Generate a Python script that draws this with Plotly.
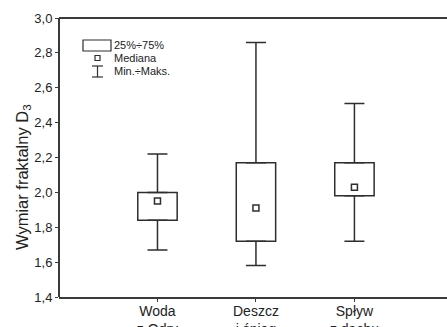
import plotly.graph_objects as go

categories = ["Woda<br>z Odry", "Deszcz<br>i śnieg", "Spływ<br>z dachu"]
positions = [1, 2, 3]
q1 = [1.84, 1.72, 1.98]
q3 = [2.00, 2.17, 2.17]
median = [1.95, 1.91, 2.03]
vmin = [1.67, 1.58, 1.72]
vmax = [2.22, 2.86, 2.51]
yticks = [1.4, 1.6, 1.8, 2.0, 2.2, 2.4, 2.6, 2.8, 3.0]
yticklabels = ["1,4", "1,6", "1,8", "2,0", "2,2", "2,4", "2,6", "2,8", "3,0"]
ytitle = "Wymiar fraktalny D<sub>3</sub>"

LC = "#2e2e2e"
AX = "#3a3a3a"
FONT = "Liberation Sans, Arial, sans-serif"

fig = go.Figure()

fig.add_trace(go.Scatter(
    x=positions, y=q3, mode="markers",
    marker=dict(size=1, opacity=0),
    error_y=dict(type="data", symmetric=False,
                 array=[a - b for a, b in zip(vmax, q3)],
                 arrayminus=[0, 0, 0],
                 color=LC, thickness=1.5, width=10),
    hoverinfo="skip", showlegend=False))
fig.add_trace(go.Scatter(
    x=positions, y=q1, mode="markers",
    marker=dict(size=1, opacity=0),
    error_y=dict(type="data", symmetric=False,
                 array=[0, 0, 0],
                 arrayminus=[a - b for a, b in zip(q1, vmin)],
                 color=LC, thickness=1.5, width=10),
    hoverinfo="skip", showlegend=False))
fig.add_trace(go.Bar(
    x=positions, base=q1, y=[a - b for a, b in zip(q3, q1)],
    width=0.4,
    marker=dict(color="white", line=dict(color=LC, width=1.5)),
    showlegend=False))
fig.add_trace(go.Scatter(
    x=positions, y=median, mode="markers",
    marker=dict(symbol="square", size=6, color="white",
                line=dict(color=LC, width=1.5)),
    showlegend=False))

fig.update_layout(
    width=447, height=327,
    margin=dict(l=59, r=0, t=18, b=30, autoexpand=False),
    plot_bgcolor="white", paper_bgcolor="white",
    font=dict(family=FONT, size=13, color="#222222"),
    barmode="overlay",
    xaxis=dict(range=[0, 3.94], tickmode="array", tickvals=positions,
               ticktext=categories, showline=True, linecolor=AX,
               linewidth=2, ticks="outside", ticklen=3, automargin=False,
               tickcolor=AX, showgrid=False, zeroline=False,
               tickfont=dict(size=14), ticklabelstandoff=-3),
    yaxis=dict(range=[1.4, 3.0], tickmode="array", tickvals=yticks,
               ticktext=yticklabels, showline=False, automargin=False,
               ticks="outside", ticklen=3, tickcolor=AX,
               showgrid=False, zeroline=False, tickfont=dict(size=13)),
)

def px(xp):
    return (xp - 59) / 388.0

def py(yp):
    return (297 - yp) / 279.0

shapes = [
    # hide right plot edge (reference has no right frame)
    dict(type="line", xref="paper", yref="paper", x0=1, x1=1, y0=0.01, y1=0.99,
         line=dict(color="white", width=4), layer="above"),
    dict(type="line", xref="paper", yref="paper", x0=0, x1=1, y0=1, y1=1,
         line=dict(color=AX, width=2)),
    dict(type="line", xref="paper", yref="paper", x0=0, x1=0, y0=0, y1=1,
         line=dict(color=AX, width=2)),
    dict(type="rect", xref="paper", yref="paper", x0=px(83), x1=px(111),
         y0=py(51), y1=py(40), line=dict(color=LC, width=1.2),
         fillcolor="white"),
    dict(type="rect", xref="paper", yref="paper", x0=px(95), x1=px(100),
         y0=py(60.5), y1=py(55.5), line=dict(color=LC, width=1.2),
         fillcolor="white"),
    dict(type="line", xref="paper", yref="paper", x0=px(97.5), x1=px(97.5),
         y0=py(66), y1=py(77), line=dict(color=LC, width=1.2)),
    dict(type="line", xref="paper", yref="paper", x0=px(92), x1=px(103),
         y0=py(66), y1=py(66), line=dict(color=LC, width=1.2)),
    dict(type="line", xref="paper", yref="paper", x0=px(92), x1=px(103),
         y0=py(77), y1=py(77), line=dict(color=LC, width=1.2)),
]
fig.update_layout(shapes=shapes)

legend_texts = ["25%÷75%", "Mediana", "Min.÷Maks."]
legend_y = [45, 58, 71]
for t, yy in zip(legend_texts, legend_y):
    fig.add_annotation(xref="paper", yref="paper", x=px(113), y=py(yy),
                       text=t, showarrow=False, xanchor="left",
                       yanchor="middle", borderpad=0,
                       font=dict(size=11, color="#222222"))

fig.add_annotation(xref="paper", yref="paper", x=px(23), y=py(177),
                   text=ytitle, textangle=-90, showarrow=False,
                   xanchor="center", yanchor="middle",
                   font=dict(size=16.5, color="#222222"))

fig.write_html("out.html")
